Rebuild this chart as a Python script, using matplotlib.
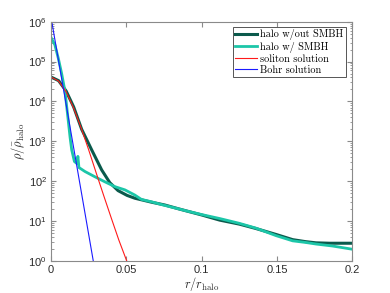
import matplotlib

matplotlib.use("Agg")
import matplotlib.pyplot as plt
import numpy as np
from matplotlib.ticker import LogLocator, NullFormatter

# data (x in r/r_halo, y as log10 of density)
bohr_x = [0.0, 0.028]
bohr_logy = [6.1, 0.0]

soliton_x = [0.0, 0.005, 0.01, 0.015, 0.02, 0.025, 0.03, 0.035, 0.04, 0.045, 0.0502]
soliton_logy = [4.61, 4.51, 4.24, 3.83, 3.33, 2.78, 2.20, 1.63, 1.07, 0.52, 0.0]

nosmbh_x = [0.0, 0.005, 0.01, 0.015, 0.0203, 0.027, 0.0336, 0.039, 0.0445, 0.0505, 0.0556,
            0.0667, 0.0755, 0.085, 0.09, 0.1, 0.112, 0.125, 0.136, 0.1495, 0.1605,
            0.169, 0.176, 0.185, 0.2]
nosmbh_logy = [4.61, 4.52, 4.26, 3.86, 3.30, 2.78, 2.28, 1.96, 1.76, 1.64, 1.57,
               1.47, 1.40, 1.30, 1.25, 1.15, 1.02, 0.92, 0.81, 0.66, 0.53,
               0.48, 0.45, 0.44, 0.44]

smbh_x = [0.0, 0.0025, 0.0048, 0.007, 0.0093, 0.0126, 0.0137, 0.0155, 0.0172, 0.0178,
          0.0185, 0.0225, 0.029, 0.0358, 0.0424, 0.049, 0.0556, 0.060, 0.0667, 0.0744,
          0.085, 0.09, 0.1, 0.112, 0.125, 0.136, 0.1495, 0.1605, 0.169, 0.176, 0.187, 0.2]
smbh_logy = [5.60, 5.42, 5.08, 4.70, 4.24, 3.10, 2.78, 2.49, 2.44, 2.62,
             2.34, 2.24, 2.11, 1.98, 1.86, 1.78, 1.65, 1.54, 1.48, 1.40,
             1.30, 1.25, 1.16, 1.06, 0.94, 0.82, 0.63, 0.50, 0.46, 0.42, 0.37, 0.29]

DARK_GREEN = "#0b5a4c"
CYAN = "#1cc6a8"
AXIS_GREY = "#8a8a8a"
TEXT_GREY = "#2b2b2b"

plt.rcParams["font.family"] = ["Liberation Sans", "DejaVu Sans"]
plt.rcParams["mathtext.fontset"] = "cm"

fig = plt.figure(figsize=(3.9, 2.93), dpi=100)
ax = fig.add_axes([0.131, 0.110, 0.772, 0.816])

ax.plot(nosmbh_x, 10 ** np.array(nosmbh_logy), color=DARK_GREEN, lw=2.2, label="halo w/out SMBH")
ax.plot(smbh_x, 10 ** np.array(smbh_logy), color=CYAN, lw=2.0, label="halo w/ SMBH")
ax.plot(soliton_x, 10 ** np.array(soliton_logy), color="#ff1a1a", lw=0.8, label="soliton solution")
ax.plot(bohr_x, 10 ** np.array(bohr_logy), color="#1a1aff", lw=0.8, label="Bohr solution")

ax.set_yscale("log")
ax.set_xlim(0, 0.2)
ax.set_ylim(1, 1e6)
ax.set_xticks([0, 0.05, 0.1, 0.15, 0.2])
ax.set_xticklabels(["0", "0.05", "0.1", "0.15", "0.2"])
ax.yaxis.set_major_locator(LogLocator(base=10, numticks=10))
ax.yaxis.set_minor_locator(LogLocator(base=10, subs=np.arange(2, 10), numticks=10))
ax.yaxis.set_minor_formatter(NullFormatter())

for spine in ax.spines.values():
    spine.set_color(AXIS_GREY)
    spine.set_linewidth(0.8)
ax.tick_params(which="both", direction="in", top=True, right=True,
               color=AXIS_GREY, labelcolor=TEXT_GREY, labelsize=8, pad=3)
ax.tick_params(which="major", length=3.5)
ax.tick_params(which="minor", length=1.8)

ax.set_xlabel(r"$r/r_{\rm halo}$", fontsize=9, labelpad=0, color=TEXT_GREY)
ax.set_ylabel(r"$\rho/\bar{\rho}_{\rm halo}$", fontsize=9, labelpad=1, color=TEXT_GREY)

leg = ax.legend(loc="upper right", bbox_to_anchor=(0.985, 0.985), prop={"family": "cmr10", "size": 7.4},
                fancybox=False, framealpha=1, edgecolor="#555555", handlelength=2.2,
                handletextpad=0.3, borderpad=0.2, labelspacing=0.15, borderaxespad=0.2)
leg.get_frame().set_linewidth(0.7)

fig.savefig("out.png", dpi=100)
